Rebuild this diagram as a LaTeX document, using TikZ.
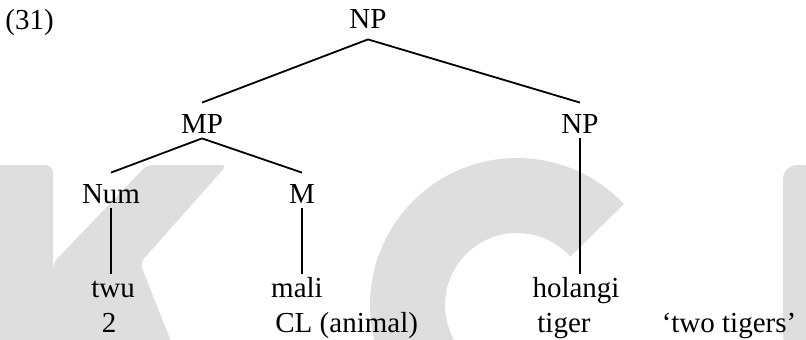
\documentclass[tikz,border=0pt]{standalone}
\usepackage{fontspec}
\setmainfont{Liberation Serif}

\definecolor{markgray}{gray}{0.87}

\tikzset{
  cat/.style={anchor=base, inner sep=0pt, text height=15pt, text depth=2.5pt},
  leaf/.style={anchor=base, inner sep=0pt, text height=11.5pt, text depth=0pt},
  gloss/.style={anchor=base, inner sep=0pt},
  branch/.style={line width=0.9pt}
}

\begin{document}
\begin{tikzpicture}[x=0.5pt, y=0.5pt, font=\fontsize{14.5}{17}\selectfont]

\useasboundingbox (0,0) rectangle (806,339);

% letters in the background
\begin{scope}
 \clip (0,0) rectangle (806,339);

 \fill[markgray, rounded corners=4pt] (-10,-10) -- (-10,174) -- (53,174) -- (53,-10) -- cycle;
 \fill[markgray, rounded corners=3pt] (147,174) -- (227,174) -- (140,76) -- (174,-10) -- (53,-10) -- (53,76) -- cycle;

 \draw[markgray, line width=37.5pt] (517,34) ++(43:109.5) arc[start angle=43, end angle=260, radius=109.5];

 \fill[markgray, rounded corners=7pt] (783,-10) -- (783,174) -- (830,174) -- (830,-10) -- cycle;
\end{scope}

% the tree
\node[gloss, anchor=base west] (ex) at (5,310) {(31)};
\node[cat, text depth=5.5pt] (np0) at (368,311) {NP};

\node[cat] (mp) at (202,206) {MP};
\node[cat] (np1) at (580,206) {NP};

\node[cat] (num) at (111,136) {Num};
\node[cat] (m) at (302,136) {M};

\node[leaf] (twu) at (113,42) {twu};
\node[leaf] (mali) at (297,42) {mali};
\node[leaf] (hol) at (576,42) {holangi};

\node[gloss] (g1) at (109,7) {2};
\node[gloss, anchor=base west] (g2) at (275,7) {CL (animal)};
\node[gloss, anchor=base west] (g3) at (537,7) {tiger};
\node[gloss] (tr) at (729,7) {`two tigers'};

\draw[branch] (np0.south) -- (mp.north);
\draw[branch] (np0.south) -- (np1.north);
\draw[branch] (mp.south) -- (num.north);
\draw[branch] (mp.south) -- (m.north);

\foreach \a/\b in {num/twu, m/mali, np1/hol}{%
   \draw[branch] (\a.south) -- (\a.south |- \b.north);
}

\end{tikzpicture}
\end{document}
